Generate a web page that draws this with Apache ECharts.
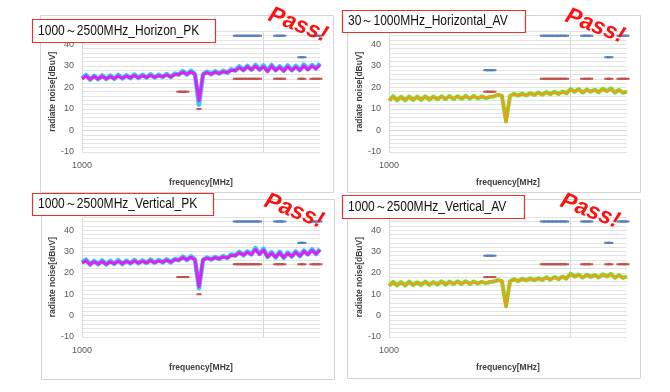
<!DOCTYPE html>
<html><head><meta charset="utf-8">
<script src="https://cdn.jsdelivr.net/npm/echarts@6/dist/echarts.min.js"></script>
<style>html,body{margin:0;padding:0;background:#fff}#c{width:670px;height:392px}</style>
</head><body><div id="c"></div>
<script>
const categories = [1000,1025,1050,1075,1100,1125,1150,1175,1200,1225,
  1250,1275,1300,1325,1350,1375,1400,1425,1450,1475,
  1500,1525,1550,1575,1600,1625,1650,1675,1700,1725,
  1750,1775,1800,1825,1850,1875,1900,1925,1950,1975,
  2000,2025,2050,2075,2100,2125,2150,2175,2200,2225,
  2250,2275,2300,2325,2350,2375,2400,2425,2450,2475];
const yTickLabels = [-10, 0, 10, 20, 30, 40];

const hPkA = [24.2,25.8,23.6,25.4,23.8,25.6,23.9,25.5,24.0,25.8,
  24.2,25.6,24.3,26.0,24.4,25.8,24.6,26.1,24.6,25.9,
  24.8,26.2,24.8,26.4,25.9,27.6,26.0,27.7,26.1,12.0,
  26.0,27.3,26.1,27.5,26.4,27.7,26.8,28.4,27.8,29.8,
  28.0,30.0,28.2,30.4,28.3,30.2,27.6,30.4,28.0,29.8,
  27.8,30.2,28.0,30.0,28.0,30.6,28.4,30.4,28.8,31.2];
const hPkB = [24.0,25.3,23.8,25.0,23.9,25.2,24.0,25.0,24.1,25.3,
  24.3,25.2,24.4,25.5,24.5,25.4,24.6,25.6,24.7,25.5,
  24.9,25.8,24.9,26.0,26.0,27.1,26.1,27.2,26.1,13.8,
  26.0,26.9,26.2,27.1,26.5,27.3,26.9,27.9,27.8,29.3,
  28.0,29.6,28.1,29.9,28.2,29.6,27.4,29.9,27.9,29.4,
  27.6,29.7,27.9,29.5,28.0,30.0,28.3,29.9,28.7,30.4];
const vPkA = [25.0,26.2,23.8,25.6,24.0,25.8,23.9,25.6,24.2,25.9,
  24.1,25.7,24.4,26.0,24.5,25.8,24.6,26.2,24.7,26.0,
  24.9,26.3,24.9,26.5,25.9,27.6,26.0,27.7,26.2,12.8,
  26.0,27.2,26.2,27.4,26.5,27.8,26.9,28.6,28.0,29.8,
  28.2,30.0,28.6,31.6,28.8,31.2,27.4,29.6,27.2,29.8,
  27.0,29.4,27.6,30.0,27.8,30.4,28.6,31.0,28.8,31.2];
const vPkB = [24.6,25.6,24.0,25.2,24.1,25.3,24.0,25.1,24.3,25.4,
  24.3,25.3,24.5,25.6,24.6,25.4,24.7,25.7,24.8,25.6,
  25.0,25.9,25.0,26.1,26.0,27.1,26.1,27.2,26.2,13.6,
  26.1,26.9,26.3,27.1,26.6,27.4,27.0,28.1,28.1,29.4,
  28.3,29.6,28.6,30.9,28.7,30.6,27.5,29.2,27.3,29.4,
  27.2,29.0,27.7,29.6,27.9,30.0,28.6,30.5,28.8,30.6];
const hAvA = [13.8,15.9,14.0,15.7,14.0,15.8,14.2,15.7,14.2,15.9,
  14.3,15.8,14.4,15.9,14.5,16.0,14.6,15.9,14.7,16.1,
  14.8,16.0,14.9,15.8,15.0,15.6,15.8,16.6,16.0,4.2,
  16.0,17.0,16.2,17.1,16.3,17.3,16.5,17.6,16.6,17.8,
  16.8,18.0,16.9,18.1,17.2,19.2,18.0,19.2,17.6,19.0,
  18.0,18.9,17.7,19.4,18.2,19.6,17.6,18.8,17.5,18.2];
const hAvB = [14.0,15.5,14.2,15.4,14.2,15.5,14.4,15.4,14.4,15.6,
  14.5,15.5,14.6,15.6,14.7,15.7,14.8,15.6,14.9,15.8,
  15.0,15.7,15.1,15.6,15.4,15.8,16.0,16.4,16.1,4.0,
  16.1,16.7,16.3,16.8,16.4,17.0,16.6,17.3,16.7,17.5,
  16.9,17.7,17.0,17.8,17.3,18.8,18.1,18.9,17.8,18.7,
  18.1,18.6,17.9,19.0,18.3,19.2,17.8,18.5,17.7,18.0];
const vAvA = [13.9,15.8,14.1,15.7,14.1,15.9,14.2,15.6,14.3,15.9,
  14.3,15.7,14.5,16.0,14.5,15.9,14.7,16.0,14.8,16.1,
  14.8,15.9,15.0,15.8,15.2,15.7,15.9,16.6,16.1,4.4,
  16.0,17.0,16.1,17.2,16.4,17.4,16.5,17.5,16.7,17.9,
  16.8,18.0,17.0,18.2,17.3,19.6,18.2,19.2,17.7,19.1,
  18.1,19.0,17.8,19.3,18.3,19.5,17.7,18.9,17.6,18.3];
const vAvB = [14.1,15.4,14.3,15.3,14.3,15.5,14.4,15.3,14.5,15.5,
  14.5,15.4,14.7,15.6,14.7,15.6,14.9,15.7,15.0,15.8,
  15.0,15.7,15.2,15.7,15.5,15.9,16.0,16.4,16.2,4.1,
  16.1,16.7,16.2,16.9,16.5,17.1,16.6,17.2,16.8,17.6,
  16.9,17.7,17.1,17.9,17.4,19.1,18.2,18.9,17.8,18.8,
  18.2,18.7,17.9,19.0,18.4,19.2,17.8,18.6,17.7,18.1];
// limit lines (blue) for AV panels, and for PK panels (28 dB step not visible there)
const limitBlueAv = [null,null,null,null,null,null,null,null,null,null,
  null,null,null,null,null,null,null,null,null,null,
  null,null,null,null,28,28,28,null,null,null,
  null,null,null,null,null,null,null,null,44,44,
  44,44,44,44,44,null,null,null,44,44,
  44,null,null,null,34,34,null,44,44,44];
const limitBluePk = [null,null,null,null,null,null,null,null,null,null,
  null,null,null,null,null,null,null,null,null,null,
  null,null,null,null,null,null,null,null,null,null,
  null,null,null,null,null,null,null,null,44,44,
  44,44,44,44,44,null,null,null,44,44,
  44,null,null,null,34,34,null,44,44,44];
const limitRed = [null,null,null,null,null,null,null,null,null,null,
  null,null,null,null,null,null,null,null,null,null,
  null,null,null,null,18,18,18,null,null,10,
  null,null,null,null,null,null,null,null,24,24,
  24,24,24,24,24,null,null,null,24,24,
  24,null,null,null,24,24,null,24,24,24];

const titles = ['1000～2500MHz_Horizon_PK','30～1000MHz_Horizontal_AV','1000～2500MHz_Vertical_PK','1000～2500MHz_Vertical_AV'];
const traceA = [hPkA, hAvA, vPkA, vAvA];
const traceB = [hPkB, hAvB, vPkB, vAvB];
const limitsBlue = [limitBluePk, limitBlueAv, limitBluePk, limitBlueAv];

const FONT = '"Liberation Sans", Arial, sans-serif';
const grids = [
  {left:82, right:350, top:31.4, bottom:240},
  {left:389, right:43, top:31.4, bottom:240},
  {left:82, right:350, top:217.2, bottom:55},
  {left:389, right:43, top:217.2, bottom:55}
];
const styles = [
  {ca:'#35c6f2', cb:'#e01ff0', wa:4.5, wb:3},
  {ca:'#78dc22', cb:'#f59a1e', wa:4, wb:2},
  {ca:'#35c6f2', cb:'#e01ff0', wa:4.5, wb:3},
  {ca:'#78dc22', cb:'#f59a1e', wa:4, wb:2}
];
const xAxes = [], yAxes = [], series = [];
grids.forEach((g, i) => {
  g.outerBoundsMode = 'none';
  xAxes.push({
    type:'category', gridIndex:i, data:categories, boundaryGap:false,
    axisLine:{show:true, lineStyle:{color:'#d9d9d9'}}, axisTick:{show:false},
    axisLabel:{interval:(idx)=>idx===0, color:'#595959', fontSize:9, fontFamily:FONT, margin:9},
    splitLine:{show:true, interval:44, lineStyle:{color:'#d9d9d9'}},
    name:'frequency[MHz]', nameLocation:'middle', nameGap:26,
    nameTextStyle:{fontSize:8.5, fontWeight:'bold', color:'#404040', fontFamily:FONT}
  });
  yAxes.push({
    type:'value', gridIndex:i, min:-10, max:46, interval:2,
    axisLine:{show:false}, axisTick:{show:false},
    axisLabel:{color:'#595959', fontSize:9, fontFamily:FONT, margin:8,
      formatter:(v)=> yTickLabels.indexOf(v) >= 0 ? String(v) : ''},
    splitLine:{show:true, lineStyle:{color:'#e3e3e3'}},
    name:'radiate noise[dBuV]', nameLocation:'middle', nameGap:23, nameRotate:90,
    nameTextStyle:{fontSize:8.5, fontWeight:'bold', color:'#404040', fontFamily:FONT}
  });
  const lim = {type:'line', xAxisIndex:i, yAxisIndex:i, connectNulls:false, showSymbol:true, showAllSymbol:true,
    symbol:'rect', symbolSize:[5,2], silent:true, z:2};
  series.push(Object.assign({}, lim, {data:limitsBlue[i], lineStyle:{color:'#4f7fbf', width:2}, itemStyle:{color:'#4f7fbf'}}));
  series.push(Object.assign({}, lim, {data:limitRed, lineStyle:{color:'#c0504d', width:2}, itemStyle:{color:'#c0504d'}}));
  series.push({type:'line', xAxisIndex:i, yAxisIndex:i, data:traceA[i], showSymbol:false, z:3,
    lineStyle:{color:styles[i].ca, width:styles[i].wa, join:'round'}});
  series.push({type:'line', xAxisIndex:i, yAxisIndex:i, data:traceB[i], showSymbol:false, z:4,
    lineStyle:{color:styles[i].cb, width:styles[i].wb, join:'round'}});
});

const boxes = [
  {box:[40,15,293,177], title:[32,19,183,23], pass:[298,25]},
  {box:[347,15,293,177], title:[342,10,183,22], pass:[595,26]},
  {box:[41,199,293,180], title:[32,193,181,22], pass:[294,211]},
  {box:[347,199,293,179], title:[342,195,182,23], pass:[590,211]}
];
const graphic = [];
boxes.forEach((b, i) => {
  graphic.push({type:'rect', shape:{x:b.box[0]+0.5, y:b.box[1]+0.5, width:b.box[2], height:b.box[3]},
    style:{fill:null, stroke:'#d4d4d4', lineWidth:1}, z:-1, silent:true});
  graphic.push({type:'rect', shape:{x:b.title[0]+0.5, y:b.title[1]+0.5, width:b.title[2], height:b.title[3]},
    style:{fill:'#fff', stroke:'#e5322d', lineWidth:1.2}, z:10, silent:true});
  graphic.push({type:'text', x:b.title[0]+6, y:b.title[1]+b.title[3]/2+0.5, scaleX:0.86, z:11, silent:true,
    style:{text:titles[i], fill:'#111', font:'14px ' + FONT, textAlign:'left', textVerticalAlign:'middle', align:'left', verticalAlign:'middle'}});
  graphic.push({type:'text', x:b.pass[0], y:b.pass[1], rotation:-21*Math.PI/180, z:12, silent:true,
    style:{text:'Pass!', fill:'#ff1010', font:'italic bold 23px ' + FONT, textAlign:'center', textVerticalAlign:'middle', align:'center', verticalAlign:'middle'}});
});

const chart = echarts.init(document.getElementById('c'), null, {renderer:'canvas'});
chart.setOption({
  animation:false, backgroundColor:'#fff',
  grid:grids, xAxis:xAxes, yAxis:yAxes, series:series, graphic:graphic
});
</script></body></html>
